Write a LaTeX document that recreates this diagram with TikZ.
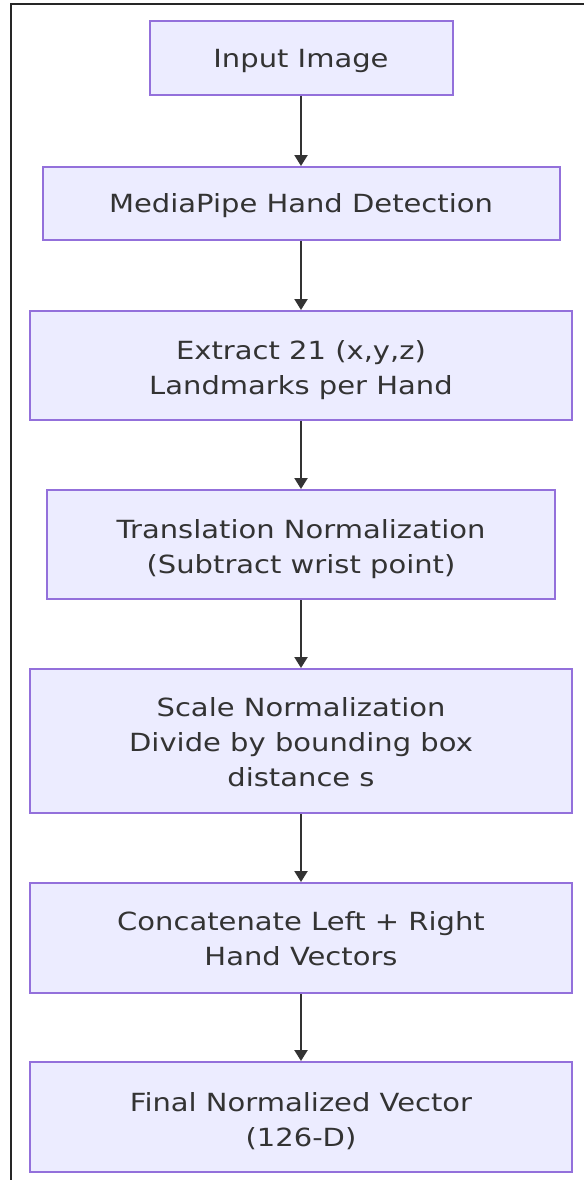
\documentclass[tikz,border=0pt]{standalone}
\usepackage{fontspec}
\setmainfont{DejaVu Sans}[FakeStretch=1.16]
\usetikzlibrary{arrows.meta}
\definecolor{boxfill}{HTML}{ECECFF}
\definecolor{boxline}{HTML}{9370DB}
\definecolor{ink}{HTML}{333333}
\tikzset{
  stepbox/.style={draw=boxline, fill=boxfill, line width=2pt, rectangle, inner sep=0pt},
  steptext/.style={align=center, text=ink, inner sep=0pt,
    font=\fontsize{25}{35}\selectfont},
  flow/.style={draw=ink, line width=2.2pt, -{Triangle[length=11pt,width=13pt]}}
}
\begin{document}
\begin{tikzpicture}[x=1pt,y=-1pt]
\useasboundingbox (0,0) rectangle (584,1180);
\draw[black!85, line width=2.2pt] (11,1180) -- (11,4) -- (584,4);
\node[stepbox, minimum width=303pt, minimum height=74pt] (b1) at (301,58) {};
\node[stepbox, minimum width=517pt, minimum height=73pt] (b2) at (301,203.5) {};
\node[stepbox, minimum width=542pt, minimum height=109pt] (b3) at (301,365.5) {};
\node[stepbox, minimum width=508pt, minimum height=109pt] (b4) at (301,544.5) {};
\node[stepbox, minimum width=542pt, minimum height=144pt] (b5) at (301,741) {};
\node[stepbox, minimum width=542pt, minimum height=110pt] (b6) at (301,938) {};
\node[stepbox, minimum width=542pt, minimum height=110pt] (b7) at (301,1117) {};
\node[steptext] (t1) at ([yshift=-3pt]b1.center) {Input Image};
\node[steptext] (t2) at ([yshift=-2pt]b2.center) {MediaPipe Hand Detection};
\node[steptext] (t3) at ([yshift=-5pt]b3.center) {Extract 21 (x,y,z)\\Landmarks per Hand};
\node[steptext] (t4) at ([yshift=-5pt]b4.center) {Translation Normalization\\(Subtract wrist point)};
\node[steptext] (t5) at ([yshift=-1pt]b5.center) {Scale Normalization\\Divide by bounding box\\distance s};
\node[steptext] (t6) at ([yshift=-1pt]b6.center) {Concatenate Left + Right\\Hand Vectors};
\node[steptext] (t7) at ([yshift=-4pt]b7.center) {Final Normalized Vector\\(126-D)};
\draw[flow] (b1) -- (b2);
\draw[flow] (b2) -- (b3);
\draw[flow] (b3) -- (b4);
\draw[flow] (b4) -- (b5);
\draw[flow] (b5) -- (b6);
\draw[flow] (b6) -- (b7);
\end{tikzpicture}
\end{document}
